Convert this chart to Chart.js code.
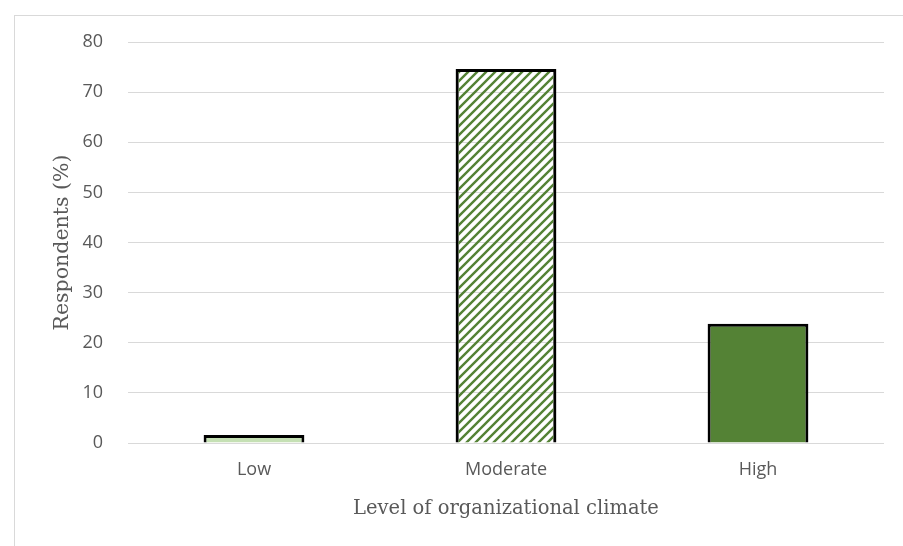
<!DOCTYPE html>
<html>
<head>
<meta charset="utf-8">
<script src="https://cdn.jsdelivr.net/npm/chart.js@4"></script>
<style>
  html, body { margin: 0; padding: 0; background: #fff; }
  #wrap { position: relative; width: 903px; height: 546px; }
  #frame { position: absolute; left: 14px; top: 15px; right: 0; bottom: 0;
           border-left: 1px solid #d9d9d9; border-top: 1px solid #d9d9d9; }
  canvas { position: absolute; left: 0; top: 0; }
</style>
</head>
<body>
<div id="wrap">
  <div id="frame"></div>
  <canvas id="c" width="903" height="546"></canvas>
</div>
<script>
// Share of respondents by level of organizational climate
const categories = ['Low', 'Moderate', 'High'];
const respondents = [1.6, 74.6, 23.8];
const yTicks = [0, 10, 20, 30, 40, 50, 60, 70, 80];

// Seamless "/" diagonal hatch used for the "Moderate" bar
function hatch(color) {
  const s = 9;
  const t = document.createElement('canvas');
  t.width = s; t.height = s;
  const g = t.getContext('2d');
  g.strokeStyle = color;
  g.lineWidth = 2.4;
  g.beginPath();
  g.moveTo(-s, s);  g.lineTo(s, -s);          // x + y = 0
  g.moveTo(-s, 2 * s); g.lineTo(2 * s, -s);   // x + y = s
  g.moveTo(0, 2 * s); g.lineTo(2 * s, 0);     // x + y = 2s
  g.stroke();
  return g.createPattern(t, 'repeat');
}

const ctx = document.getElementById('c').getContext('2d');
new Chart(ctx, {
  type: 'bar',
  data: {
    labels: categories,
    datasets: [{
      data: respondents,
      backgroundColor: ['#c5e0b4', hatch('#548235'), '#548235'],
      borderColor: '#000',
      borderWidth: 3,
      categoryPercentage: 1,
      barPercentage: 0.4
    }]
  },
  options: {
    responsive: false,
    animation: false,
    layout: { padding: { left: 0, right: 19, top: 42, bottom: 0 } },
    plugins: { legend: { display: false }, tooltip: { enabled: false } },
    scales: {
      x: {
        grid: { display: false, drawTicks: false },
        border: { display: false },
        ticks: { color: '#595959', font: { family: 'Open Sans', size: 18 }, padding: 16 },
        title: {
          display: true, text: 'Level of organizational climate', color: '#595959',
          font: { family: 'DejaVu Serif', size: 19.5 }, padding: { top: 0, bottom: 25 }
        },
        afterFit: s => { s.height = 103; }
      },
      y: {
        min: 0, max: 80,
        afterBuildTicks: s => { s.ticks = yTicks.map(v => ({ value: v })); },
        grid: { color: '#d9d9d9', lineWidth: 1, drawTicks: false },
        border: { display: false },
        ticks: { color: '#595959', font: { family: 'Open Sans', size: 18 }, padding: 25 },
        title: {
          display: true, text: 'Respondents (%)', color: '#595959',
          font: { family: 'DejaVu Serif', size: 20.5 }, padding: { top: 50, bottom: 0 }
        },
        afterFit: s => { s.width = 128; }
      }
    }
  }
});
</script>
</body>
</html>
